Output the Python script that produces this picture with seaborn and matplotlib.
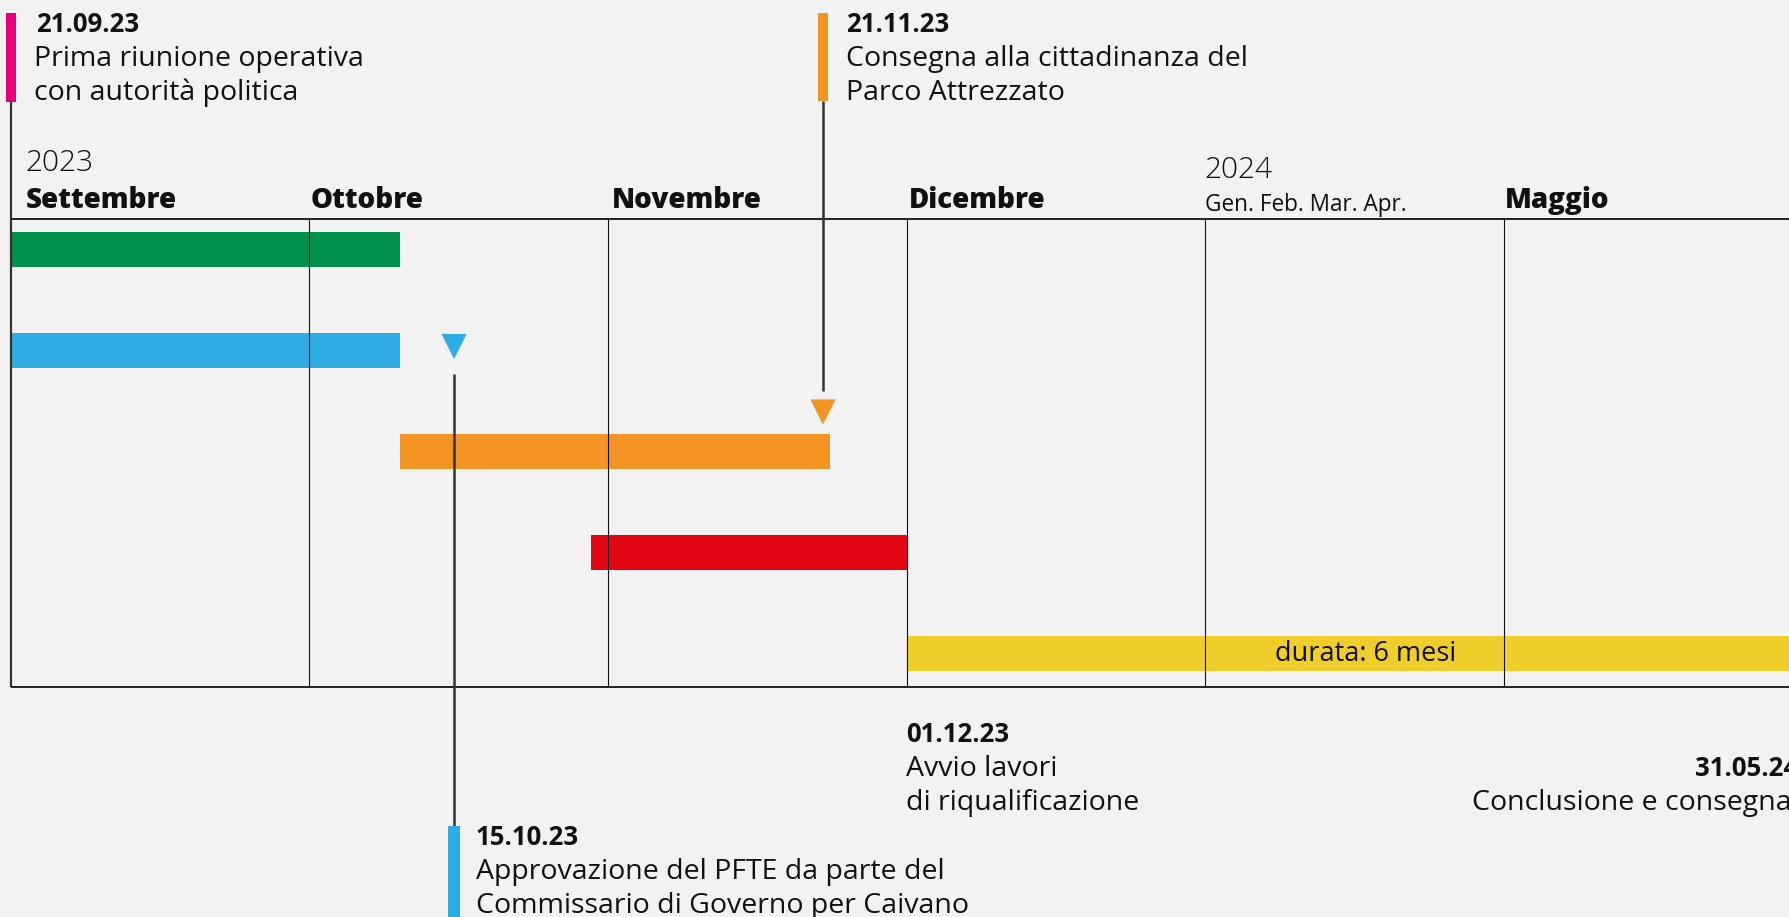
import matplotlib
matplotlib.use("Agg")
import matplotlib.pyplot as plt
import seaborn as sns
import pandas as pd

# ---------------- data ----------------
years = ["2023", "2024"]
month_labels = ["Settembre", "Ottobre", "Novembre", "Dicembre", "Maggio"]
month_cols = [0, 1, 2, 3, 5]          # column index of each bold month label
compressed_label = "Gen. Feb. Mar. Apr."
compressed_col = 4

# bars (in timeline column units: one column per month, Gen-Apr share one)
task_rows = [0, 1, 2, 3, 4]
task_start = [0.0, 0.0, 1.305, 1.945, 3.0]
task_end = [1.305, 1.305, 2.745, 3.0, 6.0]
task_colors = ["#00924A", "#2EACE3", "#F39424", "#E30613", "#EFCE2B"]
duration_text = "durata: 6 mesi"

# milestones
ms_dates = ["21.09.23", "21.11.23", "15.10.23", "01.12.23", "31.05.24"]
ms_texts = [
    ["Prima riunione operativa", "con autorità politica"],
    ["Consegna alla cittadinanza del", "Parco Attrezzato"],
    ["Approvazione del PFTE da parte del", "Commissario di Governo per Caivano"],
    ["Avvio lavori", "di riqualificazione"],
    ["Conclusione e consegna"],
]
tri_pos = [1.485, 2.72]                # blue (15.10) and orange (21.11) triangles
tri_colors = ["#2EACE3", "#F39424"]

# ---------------- layout helpers ----------------
W, H = 1789, 917
BG = "#F2F2F2"
X0, COL = 10.5, 298.7          # pixel of column 0 and width of one column
R0, ROW = 249.2, 101.1         # pixel centre of row 0 and row spacing


def ux(px):
    return (px - X0) / COL


def ry(py):
    return (py - R0) / ROW


sns.set_theme(style="white", rc={"axes.facecolor": BG, "figure.facecolor": BG})
plt.rcParams["font.family"] = ["Open Sans", "DejaVu Sans"]

fig = plt.figure(figsize=(W / 100, H / 100), dpi=100)
ax = fig.add_axes([0, 0, 1, 1])
ax.set_xlim(ux(0), ux(W))
ax.set_ylim(ry(H), ry(0))
ax.axis("off")

INK = "#111111"
top_r, bot_r = ry(219), ry(687)

# frame
ax.hlines([top_r, bot_r], 0, ux(W), color=INK, lw=1.3, zorder=1)
ax.vlines(range(1, 6), top_r, bot_r, color=INK, lw=0.8, zorder=3)
ax.vlines([0], ry(102), bot_r, color="#333333", lw=1.6, zorder=3)

# bars
df = pd.DataFrame({"row": task_rows, "start": task_start, "end": task_end, "color": task_colors})
ax.barh(df["row"], df["end"] - df["start"], left=df["start"], height=35 / ROW,
        color=df["color"], zorder=2, linewidth=0)
ax.text(ux(1366), task_rows[4], duration_text, ha="center", va="center",
        fontsize=19.5, color=INK, zorder=4)

# triangles
tri_df = pd.DataFrame({"x": tri_pos, "y": [ry(346.5), ry(412)], "c": tri_colors})
sns.scatterplot(data=tri_df, x="x", y="y", hue="c", palette=dict(zip(tri_colors, tri_colors)),
                marker="v", s=330, linewidth=0, legend=False, ax=ax, zorder=5)

# connector lines
ax.vlines([tri_pos[0]], ry(374), ry(826), color="#333333", lw=1.8, zorder=3)
ax.vlines([tri_pos[1]], ry(101), ry(391), color="#333333", lw=1.8, zorder=3)

# colour tabs
def tab(x_left, x_right, y_top, y_bot, color):
    ax.fill_between([ux(x_left), ux(x_right)], ry(y_top), ry(y_bot), color=color,
                    linewidth=0, zorder=6)

tab(6, 16, 13, 102, "#E6007E")
tab(818, 828, 13, 101, "#F39424")
tab(448, 460, 826, 917, "#2EACE3")

# header texts
ax.text(ux(25), ry(171), years[0], fontsize=21.5, fontweight="light", color=INK)
ax.text(ux(1204), ry(178), years[1], fontsize=21.5, fontweight="light", color=INK)
offsets = [15, 1, 4, 2, 1]
for lab, col, off in zip(month_labels, month_cols, offsets):
    ax.text(col + off / COL, ry(208), lab, fontsize=20, fontweight="heavy", color=INK)
ax.text(compressed_col, ry(211), compressed_label, fontsize=16.3, color=INK)

# milestone annotations (date, text lines)
def milestone(x, y_date, date, lines, ha="left", x_date=None):
    ax.text(ux(x_date if x_date is not None else x), ry(y_date), date, fontsize=18.5,
            fontweight="bold", color=INK, ha=ha)
    for i, ln in enumerate(lines):
        ax.text(ux(x), ry(y_date + 34 * (i + 1)), ln, fontsize=20.5, color=INK, ha=ha)

milestone(34, 32, ms_dates[0], ms_texts[0], x_date=36)
milestone(846, 32, ms_dates[1], ms_texts[1])
milestone(476, 845, ms_dates[2], ms_texts[2])
milestone(906, 742, ms_dates[3], ms_texts[3])
milestone(1472, 776, ms_dates[4], ms_texts[4], x_date=1695)

fig.savefig("out.png", dpi=100, facecolor=BG)
